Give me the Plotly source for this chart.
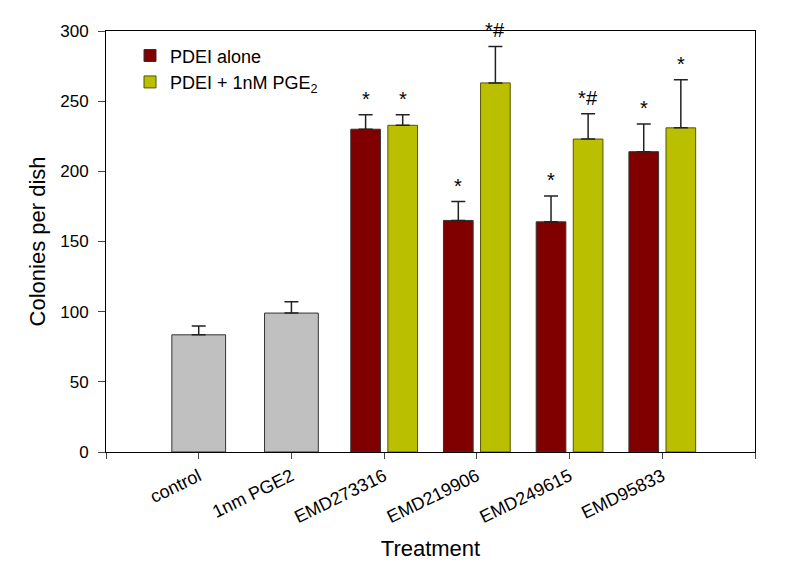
import plotly.graph_objects as go

# ---- data ----
categories = ["control", "1nm PGE2", "EMD273316", "EMD219906", "EMD249615", "EMD95833"]
control_names = ["control", "1nm PGE2"]
control_vals = [83.5, 99.0]
control_err = [6.3, 8.0]

pdei_names = ["EMD273316", "EMD219906", "EMD249615", "EMD95833"]
alone_vals = [230.0, 165.0, 164.0, 214.0]
alone_err = [10.3, 13.5, 18.5, 19.8]
pge_vals = [232.8, 263.0, 223.0, 231.0]
pge_err = [7.6, 26.0, 18.0, 34.3]
alone_sig = ["*", "*", "*", "*"]
pge_sig = ["*", "*<i>#</i>", "*<i>#</i>", "*"]

y_ticks = [0, 50, 100, 150, 200, 250, 300]

FONT = "Liberation Sans, Arial, sans-serif"
pos = {c: i + 1 for i, c in enumerate(categories)}
OFF = 0.2


def err(a):
    return dict(type="data", array=a, symmetric=False, arrayminus=[0] * len(a),
                color="#222222", thickness=1.5, width=7)


fig = go.Figure()
fig.add_trace(go.Bar(
    x=[pos[c] for c in control_names], y=control_vals, width=0.58,
    marker=dict(color="#C0C0C0", line=dict(color="#333333", width=1)),
    error_y=err(control_err), showlegend=False,
))
fig.add_trace(go.Bar(
    x=[pos[c] - OFF for c in pdei_names], y=alone_vals, width=0.32,
    name="PDEI alone",
    marker=dict(color="#800000", line=dict(color="#333333", width=1)),
    error_y=err(alone_err),
))
fig.add_trace(go.Bar(
    x=[pos[c] + OFF for c in pdei_names], y=pge_vals, width=0.32,
    name="PDEI + 1nM PGE<sub>2</sub>",
    marker=dict(color="#BABF00", line=dict(color="#555500", width=1)),
    error_y=err(pge_err),
))

annotations = []
for vals, errs, sigs, off in [(alone_vals, alone_err, alone_sig, -OFF),
                              (pge_vals, pge_err, pge_sig, OFF)]:
    for c, v, e, s in zip(pdei_names, vals, errs, sigs):
        annotations.append(dict(x=pos[c] + off, y=v + e, text=s, showarrow=False,
                                yanchor="bottom", yshift=3,
                                font=dict(family=FONT, size=20, color="black")))

fig.update_layout(
    width=785, height=565,
    margin=dict(l=98, r=38, t=23, b=121),
    paper_bgcolor="white", plot_bgcolor="white",
    font=dict(family=FONT, size=17, color="black"),
    barmode="overlay",
    annotations=annotations,
    legend=dict(x=0.037, y=0.985, xanchor="left", yanchor="top",
                bgcolor="rgba(0,0,0,0)", font=dict(size=18, family=FONT),
                tracegroupgap=0),
    xaxis=dict(range=[0, len(categories) + 1], tickmode="array",
               tickvals=[pos[c] for c in categories], ticktext=categories,
               tickangle=-26, ticks="outside", ticklen=6,
               minor=dict(tick0=0, dtick=1, ticks="outside", ticklen=6, showgrid=False),
               showline=True, linecolor="black", linewidth=1, mirror=True,
               showgrid=False, zeroline=False, tickfont=dict(size=18),
               automargin=False,
               title=dict(text="Treatment", font=dict(size=22), standoff=14)),
    yaxis=dict(range=[0, 300], tickmode="array", tickvals=y_ticks, ticks="outside",
               ticklen=7, showline=True, linecolor="black", linewidth=1, mirror=True,
               showgrid=False, zeroline=False, tickfont=dict(size=17),
               ticklabelstandoff=6, automargin=False,
               title=dict(text="Colonies per dish", font=dict(size=22), standoff=8)),
)

fig.write_html("out.html")
